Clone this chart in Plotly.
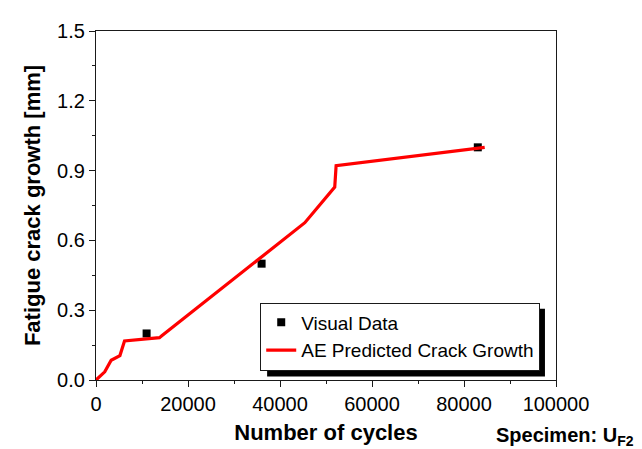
import plotly.graph_objects as go

# Visual data (squares)
visual_cycles = [11000, 36000, 83000]
visual_growth = [0.20, 0.50, 1.00]

# AE predicted crack growth (red line)
ae_cycles = [0, 1900, 3300, 5200, 6200, 13800, 14300, 45400, 51900, 52200, 84500]
ae_growth = [0.0, 0.035, 0.085, 0.105, 0.168, 0.182, 0.19, 0.676, 0.829, 0.921, 1.0]

FONT = "Arial, Liberation Sans, sans-serif"
AXC = "#1a1a1a"

fig = go.Figure()
fig.add_trace(go.Scatter(
    x=visual_cycles, y=visual_growth, mode="markers", name="Visual Data",
    marker=dict(symbol="square", size=8, color="black"),
))
fig.add_trace(go.Scatter(
    x=ae_cycles, y=ae_growth, mode="lines", name="AE Predicted Crack Growth",
    line=dict(color="#ff0000", width=3.2),
))

# legend drop shadow
fig.add_shape(type="rect", xref="paper", yref="paper",
              x0=0.372, x1=0.976, y0=0.010, y1=0.204,
              fillcolor="black", line=dict(width=0), layer="above")

fig.update_layout(
    width=642, height=449,
    margin=dict(l=88, r=94, t=19, b=77),
    plot_bgcolor="white", paper_bgcolor="white",
    font=dict(family=FONT, size=20, color="black"),
    legend=dict(
        x=0.357, y=0.222, xanchor="left", yanchor="top",
        bgcolor="white", bordercolor=AXC, borderwidth=1,
        font=dict(size=19), tracegroupgap=0, itemwidth=30,
    ),
    xaxis=dict(
        range=[0, 100000], tickvals=[0, 20000, 40000, 60000, 80000, 100000],
        tickformat="d", showgrid=False, zeroline=False,
        showline=True, linecolor=AXC, linewidth=1.3, mirror=True,
        ticks="outside", ticklen=6, tickwidth=1.3, tickcolor=AXC,
        minor=dict(ticks="outside", ticklen=3, dtick=10000, tickcolor=AXC, tickwidth=1.3, showgrid=False),
        title=dict(text="<b>Number of cycles</b>", font=dict(size=22), standoff=10),
        tickfont=dict(size=20),
    ),
    yaxis=dict(
        range=[0, 1.5], tickvals=[0, 0.3, 0.6, 0.9, 1.2, 1.5],
        tickformat=".1f", showgrid=False, zeroline=False,
        showline=True, linecolor=AXC, linewidth=1.3, mirror=True,
        ticks="outside", ticklen=6, tickwidth=1.3, tickcolor=AXC,
        minor=dict(ticks="outside", ticklen=3, dtick=0.15, tickcolor=AXC, tickwidth=1.3, showgrid=False),
        title=dict(text="<b>Fatigue crack growth [mm]</b>", font=dict(size=22), standoff=10),
        tickfont=dict(size=20),
    ),
)

fig.add_annotation(
    xref="paper", yref="paper", x=0.866, y=-0.162, xanchor="left", yanchor="middle",
    text="<b>Specimen: U<sub>F2</sub></b>", showarrow=False, font=dict(size=20),
)

fig.write_html("out.html")
